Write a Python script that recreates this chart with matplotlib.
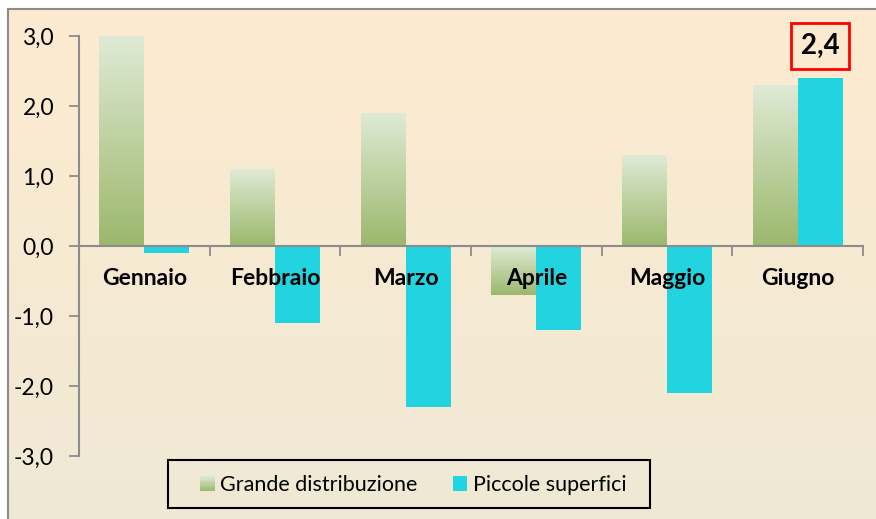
import numpy as np
import matplotlib
matplotlib.use("Agg")
import matplotlib.pyplot as plt
from matplotlib.colors import LinearSegmentedColormap
from matplotlib.patches import Rectangle
from matplotlib.legend_handler import HandlerBase
from matplotlib.ticker import FuncFormatter, FixedLocator

plt.rcParams['font.family'] = ['Lato', 'DejaVu Sans']

categories = ["Gennaio", "Febbraio", "Marzo", "Aprile", "Maggio", "Giugno"]
grande = [3.0, 1.1, 1.9, -0.7, 1.3, 2.3]
piccole = [-0.1, -1.1, -2.3, -1.2, -2.1, 2.4]
series_names = ["Grande distribuzione", "Piccole superfici"]
yticks = [-3, -2, -1, 0, 1, 2, 3]
highlight_label = "2,4"

green_light = "#DFEAD5"
green_dark = "#9BB86C"
cyan = "#21D4E0"
bg_top = "#FDEBD0"
bg_bot = "#EFE9D5"

W, H = 876, 519
fig = plt.figure(figsize=(W/100, H/100), dpi=100)
fig.patch.set_facecolor("white")

# background frame
bg = fig.add_axes([8/W, 0, 1 - 8/W, (H - 9)/H])
bgcmap = LinearSegmentedColormap.from_list("bg", [bg_top, bg_bot])
bg.imshow(np.linspace(0, 1, 256).reshape(-1, 1), cmap=bgcmap, aspect="auto",
          extent=[0, 1, 0, 1])
bg.set_xlim(0, 1); bg.set_ylim(0, 1)
bg.set_xticks([]); bg.set_yticks([])
for s in ["right", "bottom"]:
    bg.spines[s].set_visible(False)
for s in ["left", "top"]:
    bg.spines[s].set_color("#8C8C8C")
    bg.spines[s].set_linewidth(1.5)
bg.set_zorder(0)

ax = fig.add_axes([79/W, 63/H, (863 - 79)/W, (456 - 36)/H])
ax.set_zorder(1)
ax.patch.set_alpha(0)

x = np.arange(len(categories))
w = 0.344
gcmap = LinearSegmentedColormap.from_list("g", [green_light, green_dark])
grad = np.linspace(0, 1, 256).reshape(-1, 1)

gbars = ax.bar(x - w/2, grande, width=w, color="none", edgecolor="none", zorder=2)
for b in gbars:
    x0, y0 = b.get_x(), b.get_y()
    x1, y1 = x0 + b.get_width(), y0 + b.get_height()
    lo, hi = min(y0, y1), max(y0, y1)
    im = ax.imshow(grad, cmap=gcmap, aspect="auto", extent=[x0, x1, lo, hi],
                   zorder=2, interpolation="bilinear")
    im.set_clip_path(b)
pbars = ax.bar(x + w/2, piccole, width=w, color=cyan, edgecolor="none", zorder=3)

ax.set_xlim(-0.5, len(categories) - 0.5)
ax.set_ylim(-3, 3)

ax.yaxis.set_major_locator(FixedLocator(yticks))
ax.yaxis.set_major_formatter(FuncFormatter(lambda v, p: f"{v:.1f}".replace(".", ",")))
ax.tick_params(axis="y", direction="out", length=7, width=1.3, color="#8C8C8C",
               labelsize=16.5, pad=11, labelcolor="black")
ax.xaxis.set_major_locator(FixedLocator(np.arange(-0.5, len(categories), 1.0)))
ax.xaxis.set_major_formatter(FuncFormatter(lambda v, p: ""))
ax.tick_params(axis="x", direction="out", length=7, width=1.3, color="#8C8C8C")

ax.spines["top"].set_visible(False)
ax.spines["right"].set_visible(False)
ax.spines["bottom"].set_position(("data", 0))
for s in ["left", "bottom"]:
    ax.spines[s].set_color("#8C8C8C")
    ax.spines[s].set_linewidth(1.5)
    ax.spines[s].set_zorder(4)

for xi, c in zip(x, categories):
    ax.text(xi, -0.46, c, ha="center", va="center", fontsize=16.5,
            fontweight="bold", zorder=5)

# highlighted value label
last = len(categories) - 1
ax.annotate(highlight_label, xy=(x[last] + w/2, piccole[last]), xytext=(0, 23),
            textcoords="offset points", ha="center", va="center", fontsize=20,
            fontweight="bold", zorder=6,
            bbox=dict(boxstyle="square,pad=0.35", fc="none", ec="#FF0000", lw=2))


class GradHandler(HandlerBase):
    def create_artists(self, legend, orig_handle, xdescent, ydescent, width,
                       height, fontsize, trans):
        arts = []
        n = 12
        side = 10.5
        x0 = -xdescent + (width - side)
        yb = -ydescent + (height - side) / 2
        for i in range(n):
            col = gcmap(1 - (i + 0.5) / n)
            r = Rectangle((x0, yb + side * i / n), side, side / n + 0.05,
                          facecolor=col, edgecolor="none", transform=trans)
            arts.append(r)
        return arts


class SquareHandler(HandlerBase):
    def create_artists(self, legend, orig_handle, xdescent, ydescent, width,
                       height, fontsize, trans):
        side = 10.5
        r = Rectangle((-xdescent + width - side, -ydescent + (height - side) / 2),
                      side, side, facecolor=cyan, edgecolor="none",
                      transform=trans)
        return [r]


hg = Rectangle((0, 0), 1, 1)
hp = Rectangle((0, 1), 1, 1)
leg = fig.legend([hg, hp], series_names, loc="center",
                 bbox_to_anchor=(413/W, 1 - 485/H), ncol=2, fontsize=15.5,
                 handler_map={hg: GradHandler(), hp: SquareHandler()},
                 frameon=False, handlelength=0.7, handletextpad=0.25,
                 columnspacing=1.6, borderpad=0.0, borderaxespad=0)

# legend frame
fig.patches.append(Rectangle((168/W, 1 - 508/H), (650 - 168)/W, 48/H,
                             transform=fig.transFigure, fill=False,
                             edgecolor="black", linewidth=1.5, zorder=5))

fig.savefig("out.png", dpi=100)
